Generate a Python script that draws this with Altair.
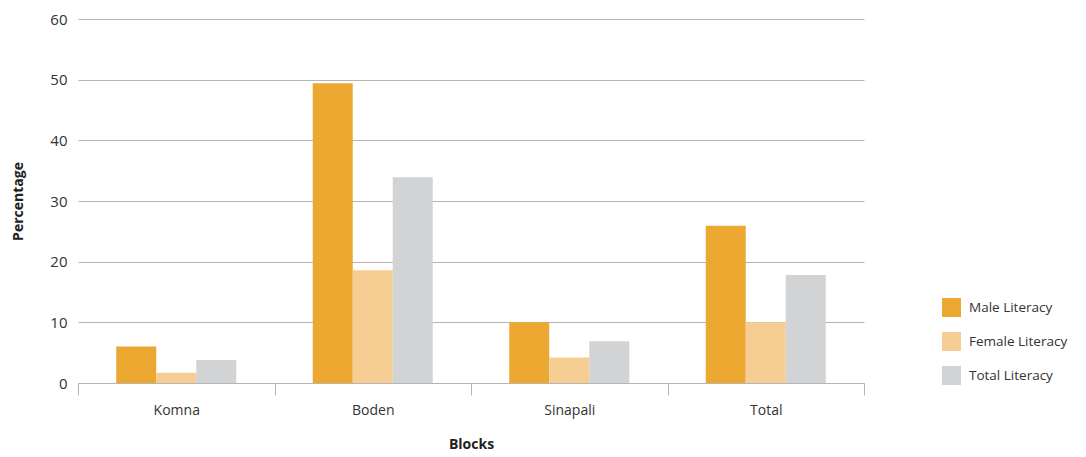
import altair as alt
import pandas as pd

blocks = ["Komna", "Boden", "Sinapali", "Total"]
series = ["Male Literacy", "Female Literacy", "Total Literacy"]
male = [6.0, 49.4, 10.0, 25.9]
female = [1.7, 18.6, 4.2, 10.0]
total = [3.8, 33.9, 6.9, 17.8]
colors = ["#EDA831", "#F6CE93", "#D2D3D5"]

rows = []
for i, b in enumerate(blocks):
    for s, vals in zip(series, [male, female, total]):
        rows.append({"Block": b, "Series": s, "Value": vals[i]})
df = pd.DataFrame(rows)

FONT = "Open Sans"

chart = alt.Chart(df).mark_bar().encode(
    x=alt.X("Block:N", sort=blocks, title="Blocks",
            scale=alt.Scale(paddingInner=0, paddingOuter=0),
            axis=alt.Axis(labelAngle=0, tickBand="extent", tickSize=12,
                          tickColor="#b5b5b5", domainColor="#b5b5b5",
                          labelPadding=8, titlePadding=20, grid=False,
                          labelFontSize=14, titleFontSize=14,
                          labelColor="#333333", titleColor="#222222",
                          titleFontWeight="bold", labelFont=FONT, titleFont=FONT)),
    xOffset=alt.XOffset("Series:N", sort=series,
                        scale=alt.Scale(paddingInner=0, paddingOuter=0.956)),
    y=alt.Y("Value:Q", title="Percentage",
            scale=alt.Scale(domain=[0, 60], nice=False),
            axis=alt.Axis(values=[0, 10, 20, 30, 40, 50, 60], domain=False,
                          ticks=False, labelPadding=11, titlePadding=24,
                          gridColor="#b5b5b5", gridWidth=1,
                          labelFontSize=15, titleFontSize=14,
                          labelColor="#333333", titleColor="#222222",
                          titleFontWeight="bold", labelFont=FONT, titleFont=FONT)),
    color=alt.Color("Series:N", sort=series,
                    scale=alt.Scale(domain=series, range=colors),
                    legend=alt.Legend(title=None, orient="none",
                                      legendX=864, legendY=279,
                                      symbolType="square", symbolSize=361,
                                      symbolStrokeWidth=0, rowPadding=15,
                                      labelOffset=8, labelFontSize=13.5,
                                      labelFont=FONT, labelColor="#333333",
                                      padding=0)),
).properties(
    width=786, height=364,
    padding={"left": 70, "top": 11, "right": 212, "bottom": 72},
    autosize=alt.AutoSizeParams(type="none"),
).configure_view(stroke=None)

chart.save("out.html", embed_options={"renderer": "svg", "actions": False})
